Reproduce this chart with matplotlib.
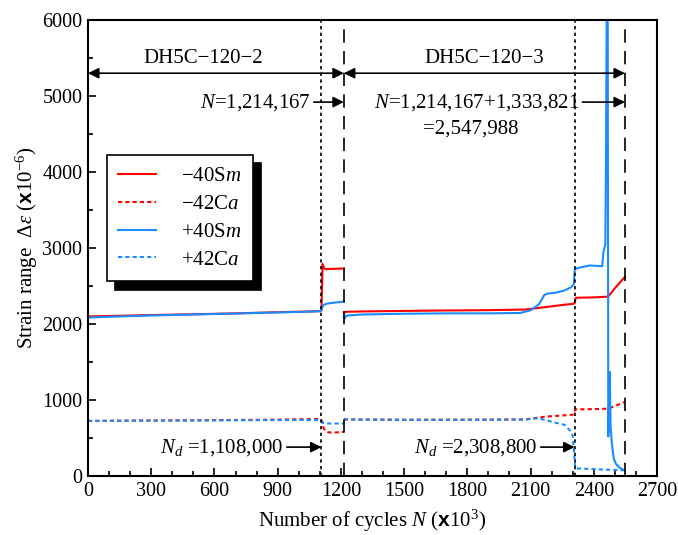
import matplotlib
matplotlib.use('Agg')
import matplotlib.pyplot as plt
import numpy as np
from matplotlib.ticker import MultipleLocator

plt.rcParams['font.family'] = ['Liberation Serif', 'DejaVu Serif']
plt.rcParams['mathtext.fontset'] = 'custom'
plt.rcParams['mathtext.rm'] = 'Liberation Serif'
plt.rcParams['mathtext.it'] = 'Liberation Serif:italic'
plt.rcParams['mathtext.bf'] = 'Liberation Serif:bold'
plt.rcParams['mathtext.sf'] = 'Liberation Sans:bold'
plt.rcParams['font.size'] = 15

# 数据 (N 单位: x10^3 次, 应变: x10^-6)，nan 用来断开两个试件段
red_sm_n = [0, 100, 300, 500, 700, 900, 1050, 1100, 1108, 1113, 1120, 1130, 1150, 1214,
            np.nan,
            1214, 1220, 1300, 1500, 1700, 1900, 2075, 2150, 2250, 2300, 2308, 2315, 2400,
            2468, 2500, 2548]
red_sm_v = [2100, 2105, 2118, 2128, 2140, 2155, 2165, 2170, 2180, 2790, 2735, 2720, 2725, 2730,
            np.nan,
            2145, 2160, 2165, 2172, 2178, 2182, 2190, 2215, 2250, 2265, 2270, 2345, 2350,
            2360, 2470, 2620]

blue_sm_n = [0, 100, 300, 500, 700, 900, 1050, 1100, 1108, 1115, 1130, 1150, 1214,
             np.nan,
             1214, 1218, 1225, 1300, 1500, 1700, 1900, 2050, 2100, 2140, 2165, 2180, 2215,
             2260, 2290, 2305, 2310, 2330, 2380, 2440, 2446, 2455, 2458, 2462, 2466, 2469,
             2472, 2476, 2480, 2486, 2495, 2505, 2520, 2548]
blue_sm_v = [2085, 2095, 2112, 2125, 2138, 2152, 2162, 2168, 2180, 2245, 2265, 2275, 2295,
             np.nan,
             2090, 2070, 2110, 2125, 2135, 2140, 2140, 2145, 2180, 2260, 2380, 2400, 2410,
             2440, 2480, 2520, 2720, 2740, 2770, 2760, 2950, 3050, 4200, 6500, 6500, 520,
             900, 1370, 650, 420, 230, 160, 115, 70]

red_ca_n = [0, 100, 300, 500, 700, 900, 1050, 1100, 1108, 1115, 1125, 1140, 1160, 1214,
            np.nan,
            1214, 1300, 1500, 1700, 1900, 2075, 2170, 2287, 2305, 2312, 2400, 2468, 2548]
red_ca_v = [725, 727, 730, 733, 737, 742, 748, 752, 740, 650, 600, 575, 570, 580,
            np.nan,
            745, 742, 740, 740, 742, 745, 781, 803, 810, 877, 880, 885, 975]

blue_ca_n = [0, 100, 300, 500, 700, 900, 1050, 1100, 1108, 1115, 1130, 1150, 1214,
             np.nan,
             1214, 1300, 1500, 1700, 1900, 2075, 2137, 2200, 2263, 2287, 2300, 2308, 2312,
             2400, 2548]
blue_ca_v = [725, 726, 728, 730, 733, 736, 738, 740, 730, 700, 692, 690, 692,
             np.nan,
             745, 742, 740, 740, 740, 742, 760, 715, 671, 600, 530, 250, 100,
             90, 75]

n_damage = [1108.0, 2308.8]      # 点线
n_end = [1214.167, 2547.988]     # 虚线

red = '#ff0000'
blue = '#1a8cff'

fig = plt.figure(figsize=(6.78, 5.35), dpi=100)
ax = fig.add_axes([0.1298, 0.1103, 0.8392, 0.8523])

ax.plot(red_sm_n, red_sm_v, color=red, lw=1.5, label='−40S$m$')
ax.plot(red_ca_n, red_ca_v, color=red, lw=1.5, ls=(0, (2, 1.5)), label='−42C$a$')
ax.plot(blue_sm_n, blue_sm_v, color=blue, lw=1.5, label='+40S$m$')
ax.plot(blue_ca_n, blue_ca_v, color=blue, lw=1.5, ls=(0, (2, 1.5)), label='+42C$a$')

for x in n_damage:
    ax.axvline(x, color='black', lw=1.2, ls=(0, (2, 2)))
for x in n_end:
    ax.axvline(x, color='black', lw=1.2, ls=(0, (8, 5)))

# 试件区间双箭头
arr2 = dict(arrowstyle='<|-|>', color='black', lw=1.2, mutation_scale=16, shrinkA=0, shrinkB=0)
ax.annotate('', xy=(n_end[0], 5300), xytext=(0, 5300), arrowprops=arr2)
ax.annotate('', xy=(n_end[1], 5300), xytext=(n_end[0], 5300), arrowprops=arr2)
ax.text(548, 5500, 'DH5C−120−2', ha='center', va='center')
ax.text(1880, 5500, 'DH5C−120−3', ha='center', va='center')

arr1 = dict(arrowstyle='-|>', color='black', lw=1.2, mutation_scale=16, shrinkA=0, shrinkB=0)
ax.annotate('$N$=1,214,167', xy=(n_end[0], 4920), xytext=(1058, 4920),
            ha='right', va='center', arrowprops=arr1)
ax.annotate('$N$=1,214,167+1,333,821', xy=(n_end[1], 4920), xytext=(2333, 4920),
            ha='right', va='center', arrowprops=arr1)
ax.text(1590, 4570, '=2,547,988', ha='left', va='center')
ax.annotate('$N_d$ =1,108,000', xy=(n_damage[0], 380), xytext=(930, 380),
            ha='right', va='center', arrowprops=arr1)
ax.annotate('$N_d$ =2,308,800', xy=(n_damage[1], 380), xytext=(2135, 380),
            ha='right', va='center', arrowprops=arr1)

ax.set_xlim(0, 2700)
ax.set_ylim(0, 6000)
ax.xaxis.set_major_locator(MultipleLocator(300))
ax.xaxis.set_minor_locator(MultipleLocator(100))
ax.yaxis.set_major_locator(MultipleLocator(1000))
ax.yaxis.set_minor_locator(MultipleLocator(500))
ax.tick_params(which='both', direction='in', top=False, right=False, width=1.2,
               labelsize=14.5)
ax.tick_params(which='major', length=6, pad=4)
ax.tick_params(which='minor', length=3.5)
for s in ax.spines.values():
    s.set_linewidth(1.5)

ax.set_xlabel(r'Number of cycles $N$ ($\mathsf{x}$10$^3$)', labelpad=5)
ax.set_ylabel(r'Strain range  $\mathit{\Delta\varepsilon}$ ($\mathsf{x}$10$^{-6}$)', labelpad=2)

leg = ax.legend(loc='upper left', bbox_to_anchor=(0.033, 0.704), borderaxespad=0,
                fancybox=False, edgecolor='black', framealpha=1, handlelength=1.8,
                handletextpad=1.2, labelspacing=0.4, borderpad=0.55,
                shadow={'ox': 6, 'oy': -6, 'facecolor': 'black', 'edgecolor': 'black', 'alpha': 1})
leg.get_frame().set_linewidth(1.2)

plt.savefig('out.png', dpi=100, facecolor='white')
